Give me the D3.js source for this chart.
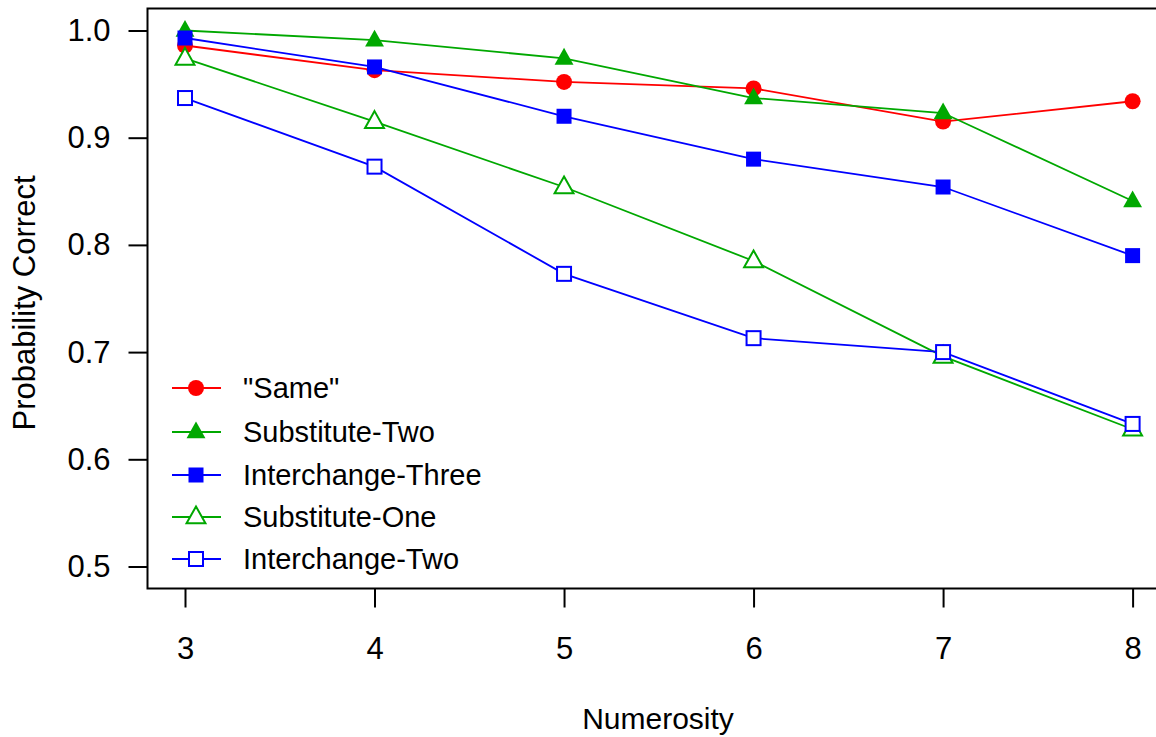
<!DOCTYPE html>
<html>
<head>
<meta charset="utf-8">
<script src="https://cdn.jsdelivr.net/npm/d3@7"></script>
<style>
  body { margin: 0; background: #fff; }
  text { font-family: "Liberation Sans", Arial, sans-serif; }
</style>
</head>
<body>
<div id="chart"></div>
<script>
// data
var numerosity = [3, 4, 5, 6, 7, 8];
var yTicks = [0.5, 0.6, 0.7, 0.8, 0.9, 1.0];
var seriesNames = ['"Same"', "Substitute-Two", "Interchange-Three", "Substitute-One", "Interchange-Two"];
var same = [0.986, 0.963, 0.952, 0.946, 0.915, 0.934];
var substituteTwo = [1.000, 0.991, 0.974, 0.937, 0.923, 0.841];
var interchangeThree = [0.993, 0.966, 0.920, 0.880, 0.854, 0.790];
var substituteOne = [0.974, 0.915, 0.854, 0.785, 0.696, 0.628];
var interchangeTwo = [0.937, 0.873, 0.773, 0.713, 0.700, 0.633];

var w = 1156, h = 737;
var red = "#ff0000", green = "#00a800", blue = "#0000ff";

var series = [
    {name: seriesNames[0], values: same, color: red, shape: "circle", fill: true},
    {name: seriesNames[1], values: substituteTwo, color: green, shape: "triangle", fill: true},
    {name: seriesNames[2], values: interchangeThree, color: blue, shape: "square", fill: true},
    {name: seriesNames[3], values: substituteOne, color: green, shape: "triangle", fill: false},
    {name: seriesNames[4], values: interchangeTwo, color: blue, shape: "square", fill: false}
];

var svg = d3.select("#chart").append("svg").attr("width", w).attr("height", h);

var x = d3.scaleLinear().domain([3, 8]).range([185, 1132.6]);
var y = d3.scaleLinear().domain([0.5, 1.0]).range([566.5, 30.5]);

// box (right side runs off the picture)
svg.append("path")
    .attr("d", "M1170,8.5 H147.5 V588.5 H1170")
    .attr("fill", "none").attr("stroke", "#000").attr("stroke-width", 2);

var yAxis = svg.append("g").attr("transform", "translate(147.5,0)")
    .call(d3.axisLeft(y).tickValues(yTicks).tickSize(19).tickPadding(18).tickFormat(d3.format(".1f")));
var xAxis = svg.append("g").attr("transform", "translate(0,588.5)")
    .call(d3.axisBottom(x).tickValues(numerosity).tickSize(19).tickPadding(29).tickFormat(d3.format("d")));

[yAxis, xAxis].forEach(function (ax) {
    ax.select(".domain").remove();
    ax.selectAll("line").attr("stroke", "#000").attr("stroke-width", 2);
    ax.selectAll("text").attr("fill", "#000").style("font-size", "31px")
        .style("font-family", '"Liberation Sans", Arial, sans-serif');
});

svg.append("text").attr("x", 658).attr("y", 729).attr("text-anchor", "middle")
    .style("font-size", "30px").text("Numerosity");
svg.append("text").attr("transform", "translate(35,303) rotate(-90)").attr("text-anchor", "middle")
    .style("font-size", "31px").text("Probability Correct");

function marker(g, s, cx, cy) {
    var m;
    if (s.shape == "circle") {
        m = g.append("circle").attr("cx", cx).attr("cy", cy).attr("r", 8);
    } else if (s.shape == "square") {
        var a = s.fill ? 15 : 14;
        m = g.append("rect").attr("x", cx - a / 2).attr("y", cy - a / 2).attr("width", a).attr("height", a);
    } else {
        var r = 10.5;
        m = g.append("path").attr("d", "M" + cx + "," + (cy - r) + " L" + (cx + r * 0.9) + "," + (cy + r * 0.6) +
            " L" + (cx - r * 0.9) + "," + (cy + r * 0.6) + "Z");
    }
    if (s.fill) m.attr("fill", s.color).attr("stroke", "none");
    else m.attr("fill", "#fff").attr("stroke", s.color).attr("stroke-width", 2);
}

var line = d3.line().x(function (d, i) { return x(numerosity[i]); }).y(function (d) { return y(d); });

series.forEach(function (s) {
    var g = svg.append("g");
    g.append("path").attr("d", line(s.values)).attr("fill", "none")
        .attr("stroke", s.color).attr("stroke-width", 1.8);
    s.values.forEach(function (v, i) {
        marker(g, s, x(numerosity[i]), y(v));
    });
});

// legend
var legendY = [388, 432, 475, 517, 559];
series.forEach(function (s, i) {
    var g = svg.append("g");
    g.append("line").attr("x1", 172).attr("x2", 221).attr("y1", legendY[i]).attr("y2", legendY[i])
        .attr("stroke", s.color).attr("stroke-width", 1.8);
    marker(g, s, 196, legendY[i]);
    g.append("text").attr("x", 243).attr("y", legendY[i]).attr("dy", "0.36em")
        .style("font-size", "29px").text(s.name);
});
</script>
</body>
</html>
